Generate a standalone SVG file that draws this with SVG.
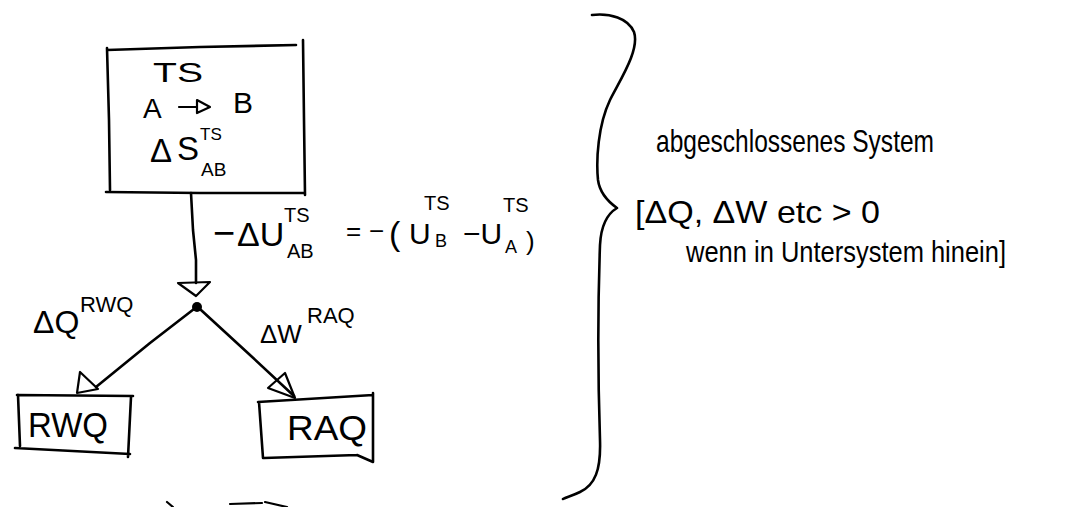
<svg xmlns="http://www.w3.org/2000/svg" width="1065" height="507" viewBox="0 0 1065 507">
<style>
.ln{fill:none;stroke:#000;stroke-width:2.6;stroke-linecap:round;stroke-linejoin:round}
.th{fill:none;stroke:#000;stroke-width:2.2;stroke-linecap:round;stroke-linejoin:round}
.t{font-family:"Liberation Sans",Arial,sans-serif;fill:#000}
</style>
<rect width="1065" height="507" fill="#fff"/>
<g id="node-ts">
<path class="ln" d="M107,50 L200,47 L296,45 M303,40 L304,120 L305,195 M106,192 L200,193 L305,193 M107,48 L109,120 L110,190"/>
<text class="t" x="153" y="82" font-size="27" textLength="50" lengthAdjust="spacingAndGlyphs">TS</text>
<text class="t" x="143" y="118" font-size="28">A</text>
<path class="th" d="M179,107 L197,107 M197,100 L210,107 L197,113 Z"/>
<text class="t" x="233" y="113" font-size="30">B</text>
<text class="t" font-size="33"><tspan x="150" y="162">Δ</tspan><tspan x="177" y="160">S</tspan><tspan x="200" y="140" font-size="17">TS</tspan><tspan x="201" y="176" font-size="19">AB</tspan></text>
</g>
<g id="connectors">
<path class="ln" d="M191,193 L193,230 L196,260 L196,283"/>
<path class="th" d="M178,283 L210,282 L196,296 Z"/>
<circle cx="197" cy="307" r="5" fill="#000"/>
<path class="ln" d="M194,309 L150,343 L96,387"/>
<path class="th" d="M80,372 L77,393 L98,389 Z"/>
<path class="ln" d="M201,310 L250,355 L294,396"/>
<path class="th" d="M268,388 L285,373 L295,398 Z"/>
<g id="edge-labels">
<text class="t" font-size="32"><tspan x="33" y="333">ΔQ</tspan><tspan x="80" y="312" font-size="22">RWQ</tspan></text>
<text class="t" font-size="26"><tspan x="260" y="343">ΔW</tspan><tspan x="307" y="323" font-size="22">RAQ</tspan></text>
<text class="t" font-size="38"><tspan x="213" y="246">−</tspan><tspan x="237" y="246" font-size="34">ΔU</tspan><tspan x="284" y="222" font-size="20">TS</tspan><tspan x="287" y="258" font-size="20">AB</tspan></text>
<text class="t" font-size="30"><tspan x="346" y="240" font-size="26">=</tspan><tspan x="369" y="240" font-size="26">−</tspan><tspan x="389" y="245" font-size="34">(</tspan><tspan x="409" y="244">U</tspan><tspan x="435" y="247" font-size="18">B</tspan><tspan x="424" y="210" font-size="20">TS</tspan><tspan x="463" y="244">−U</tspan><tspan x="505" y="253" font-size="18">A</tspan><tspan x="503" y="212" font-size="20">TS</tspan><tspan x="526" y="250" font-size="26">)</tspan></text>
</g>
</g>
<g id="node-rwq">
<path class="ln" d="M17,395 L133,396 M18,395 L20,446 M15,448 L130,454 M131,397 L128,457"/>
<text class="t" x="28" y="437" font-size="35" textLength="80" lengthAdjust="spacingAndGlyphs">RWQ</text>
</g>
<g id="node-raq">
<path class="ln" d="M258,402 L373,395 M373,393 L373,462 M259,402 L263,458 M264,458 L357,455 M357,455 L373,462"/>
<text class="t" x="287" y="440" font-size="35" textLength="80" lengthAdjust="spacingAndGlyphs">RAQ</text>
</g>
<g id="brace">
<path class="ln" d="M592,15 C610,13 628,18 634,32 C640,50 620,80 610,100 C598,125 596,160 598,180 C600,195 610,203 617,208 C607,214 601,225 600,245 C598,300 598,380 600,440 C601,470 595,485 580,492 C572,496 566,497 563,499"/>
</g>
<g id="notes">
<text class="t" x="656" y="152" font-size="32" textLength="278" lengthAdjust="spacingAndGlyphs">abgeschlossenes System</text>
<text class="t" x="635" y="223" font-size="32" textLength="245" lengthAdjust="spacingAndGlyphs">[ΔQ, ΔW etc &gt; 0</text>
<text class="t" x="686" y="262" font-size="30" textLength="320" lengthAdjust="spacingAndGlyphs">wenn in Untersystem hinein]</text>
</g>
<g id="cutoff">
<path class="th" d="M167,502 L173,507 M230,504 L262,503 M265,502 L287,507"/>
</g>
</svg>
